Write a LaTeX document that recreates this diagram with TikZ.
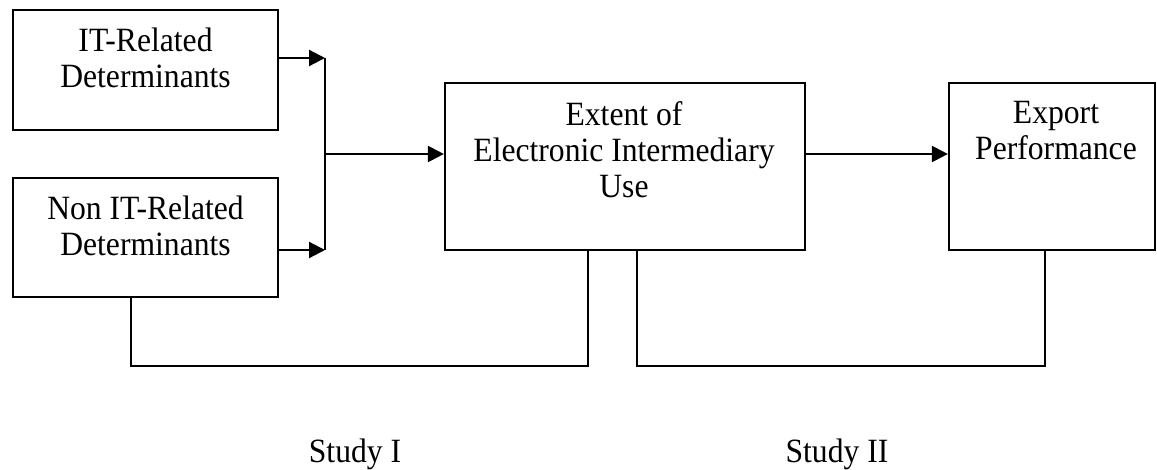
\documentclass[tikz,border=0pt]{standalone}
\usepackage{fontspec}
\setmainfont{Liberation Serif}[FakeStretch=0.93]
\usetikzlibrary{arrows.meta}
\begin{document}
\begin{tikzpicture}[x=1pt,y=-1pt,
  box/.style={draw,line width=2.2pt,rectangle,inner sep=0pt},
  boxtext/.style={anchor=north,align=center,inner sep=0pt,font=\fontsize{34}{36}\selectfont},
  lbl/.style={anchor=base,inner sep=0pt,font=\fontsize{34}{36}\selectfont},
  conn/.style={line width=2.2pt},
  arr/.style={line width=2.2pt,-{Triangle[length=16pt,width=16pt]}}]
\useasboundingbox (0,0) rectangle (1157,470);
% boxes
\node[box,minimum width=265pt,minimum height=120pt] (b1) at (145.5,70) {};
\node[box,minimum width=265pt,minimum height=119pt] (b2) at (145.5,237.5) {};
\node[box,minimum width=360pt,minimum height=167pt] (b3) at (625,166.5) {};
\node[box,minimum width=206pt,minimum height=167pt] (b4) at (1052,166.5) {};
% box texts
\node[boxtext] (t1) at (145.5,28) {IT-Related\\Determinants};
\node[boxtext] (t2) at (145.5,196) {Non IT-Related\\Determinants};
\node[boxtext] (t3) at (624,101) {Extent of\\Electronic Intermediary\\Use};
\node[boxtext] (t4) at (1056,101) {Export\\Performance};
% junction
\coordinate (j1) at (325,58);
\coordinate (j2) at (325,250);
\coordinate (jm) at (325,154);
\draw[arr] (b1.east |- j1) -- (j1);
\draw[arr] (b2.east |- j2) -- (j2);
\draw[conn] (j1) -- (j2);
\draw[arr] (jm) -- (jm -| b3.west);
\draw[arr] (b3.east |- jm) -- (b4.west |- jm);
% bottom brackets
\coordinate (s1a) at (131,366);
\coordinate (s1b) at (588,366);
\coordinate (s2a) at (637,366);
\coordinate (s2b) at (1045,366);
\draw[conn] (s1a |- b2.south) -- (s1a) -- (s1b) -- (s1b |- b3.south);
\draw[conn] (s2a |- b3.south) -- (s2a) -- (s2b) -- (s2b |- b4.south);
% labels
\node[lbl] (l1) at (355,462) {Study I};
\node[lbl] (l2) at (837,462) {Study II};
\end{tikzpicture}
\end{document}
